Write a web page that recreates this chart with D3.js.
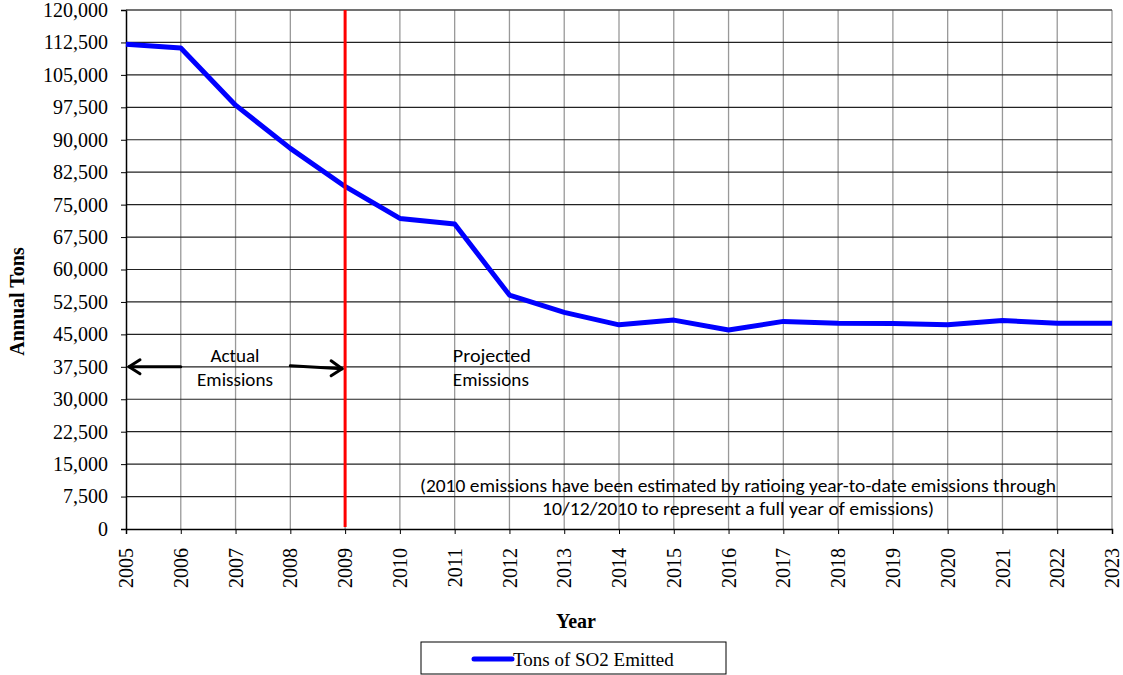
<!DOCTYPE html>
<html>
<head>
<meta charset="utf-8">
<script src="https://cdn.jsdelivr.net/npm/d3@7"></script>
<style>
  body { margin: 0; background: #fff; }
  svg { display: block; }
</style>
</head>
<body>
<div id="chart"></div>
<script>
const years = d3.range(2005, 2024);
const tons = [112100, 111200, 98000, 88000, 79200, 71800, 70500, 54100, 50100, 47200,
              48300, 46000, 48000, 47600, 47500, 47200, 48200, 47600, 47600];
const yTicks = d3.range(0, 120001, 7500);
const seriesName = "Tons of SO2 Emitted";
const splitYear = 2009;
const arrowLevel = 37500;
const noteLines = [
  "(2010 emissions have been estimated by ratioing year-to-date emissions through",
  "10/12/2010 to represent a full year of emissions)"
];

const width = 1123, height = 675;
const margin = {top: 10, right: 11, bottom: 146, left: 126};

const svg = d3.select("#chart").append("svg")
    .attr("width", width)
    .attr("height", height);

const x = d3.scaleLinear()
    .domain([2005, 2023])
    .range([margin.left, width - margin.right]);
const y = d3.scaleLinear()
    .domain([0, 120000])
    .range([height - margin.bottom, margin.top]);

const serif = "'Liberation Serif', 'Times New Roman', serif";
const sans = "Carlito, Lato, 'Open Sans', sans-serif";

// vertical grid
svg.append("g")
  .selectAll("line")
  .data(years.slice(1))
  .join("line")
    .attr("x1", d => x(d)).attr("x2", d => x(d))
    .attr("y1", y(120000)).attr("y2", y(0))
    .attr("stroke", "#999")
    .attr("stroke-width", 1.3);

// horizontal grid
svg.append("g")
  .selectAll("line")
  .data(yTicks.slice(1))
  .join("line")
    .attr("x1", x(2005)).attr("x2", x(2023))
    .attr("y1", d => y(d)).attr("y2", d => y(d))
    .attr("stroke", "#222")
    .attr("stroke-width", 1.2);

// axes
const yAxis = svg.append("g")
    .attr("transform", `translate(${margin.left},0)`)
    .call(d3.axisLeft(y).tickValues(yTicks).tickSize(5).tickPadding(13)
      .tickFormat(d3.format(",")));
yAxis.select(".domain").attr("stroke", "#000").attr("stroke-width", 1.5);
yAxis.selectAll(".tick line").attr("stroke", "#000");
yAxis.selectAll("text")
    .attr("font-family", serif)
    .attr("font-size", 20)
    .attr("fill", "#000");

const xAxis = svg.append("g")
    .attr("transform", `translate(0,${y(0)})`)
    .call(d3.axisBottom(x).tickValues(years).tickSize(5).tickFormat(d3.format("d")));
xAxis.select(".domain").attr("stroke", "#000").attr("stroke-width", 1.5);
xAxis.selectAll(".tick line").attr("stroke", "#000");
xAxis.selectAll("text")
    .attr("font-family", serif)
    .attr("font-size", 20)
    .attr("fill", "#000")
    .attr("transform", "rotate(-90)")
    .attr("text-anchor", "end")
    .attr("dy", "0.33em")
    .attr("x", -19)
    .attr("y", 0);

// top border
svg.append("line")
    .attr("x1", x(2005)).attr("x2", x(2023))
    .attr("y1", y(120000)).attr("y2", y(120000))
    .attr("stroke", "#555");

// series line
svg.append("path")
    .datum(years.map((yr, i) => [yr, tons[i]]))
    .attr("fill", "none")
    .attr("stroke", "#0000ff")
    .attr("stroke-width", 5)
    .attr("stroke-linejoin", "round")
    .attr("d", d3.line().x(d => x(d[0])).y(d => y(d[1])));

// split line
svg.append("line")
    .attr("x1", x(splitYear)).attr("x2", x(splitYear))
    .attr("y1", y(120000)).attr("y2", y(0) - 2)
    .attr("stroke", "#ff0000")
    .attr("stroke-width", 3);

// arrows
const arrowG = svg.append("g")
    .attr("stroke", "#000")
    .attr("stroke-width", 3)
    .attr("fill", "none")
    .attr("stroke-linecap", "round")
    .attr("stroke-linejoin", "round");
const ay = y(arrowLevel);
arrowG.append("line")
    .attr("x1", x(2005) + 3).attr("x2", x(2006))
    .attr("y1", ay).attr("y2", ay);
arrowG.append("polyline")
    .attr("points", `${x(2005) + 14},${ay - 7} ${x(2005) + 3},${ay} ${x(2005) + 14},${ay + 7}`);
arrowG.append("line")
    .attr("x1", x(2008)).attr("x2", x(splitYear) - 3)
    .attr("y1", ay - 1).attr("y2", ay + 2);
arrowG.append("polyline")
    .attr("points", `${x(splitYear) - 14},${ay - 6} ${x(splitYear) - 3},${ay + 2} ${x(splitYear) - 14},${ay + 9}`);

// annotations
const ann = svg.append("g")
    .attr("font-family", sans)
    .attr("font-size", 18)
    .attr("fill", "#000");
ann.append("text")
    .attr("x", 235).attr("y", y(arrowLevel) - 5)
    .attr("text-anchor", "middle")
    .attr("textLength", 49).attr("lengthAdjust", "spacingAndGlyphs")
    .text("Actual");
ann.append("text")
    .attr("x", 235).attr("y", y(arrowLevel) + 19)
    .attr("text-anchor", "middle")
    .attr("textLength", 76).attr("lengthAdjust", "spacingAndGlyphs")
    .text("Emissions");
ann.append("text")
    .attr("x", x(2010) + 53).attr("y", y(arrowLevel) - 5)
    .attr("textLength", 78).attr("lengthAdjust", "spacingAndGlyphs")
    .text("Projected");
ann.append("text")
    .attr("x", x(2010) + 53).attr("y", y(arrowLevel) + 19)
    .attr("textLength", 76).attr("lengthAdjust", "spacingAndGlyphs")
    .text("Emissions");
noteLines.forEach((t, i) => {
  ann.append("text")
      .attr("x", 738).attr("y", 492 + i * 23)
      .attr("text-anchor", "middle")
      .attr("textLength", i === 0 ? 636 : 392)
      .attr("lengthAdjust", "spacingAndGlyphs")
      .text(t);
});

// axis titles
svg.append("text")
    .attr("x", 576).attr("y", 628)
    .attr("text-anchor", "middle")
    .attr("font-family", serif)
    .attr("font-weight", "bold")
    .attr("font-size", 20)
    .text("Year");
svg.append("text")
    .attr("transform", `translate(24,${(y(0) + y(120000)) / 2 + 32}) rotate(-90)`)
    .attr("text-anchor", "middle")
    .attr("font-family", serif)
    .attr("font-weight", "bold")
    .attr("font-size", 20)
    .text("Annual Tons");

// legend
const lg = svg.append("g").attr("transform", "translate(421,642)");
lg.append("rect")
    .attr("width", 305).attr("height", 32)
    .attr("fill", "#fff")
    .attr("stroke", "#000")
    .attr("stroke-width", 1);
lg.append("line")
    .attr("x1", 53).attr("x2", 91)
    .attr("y1", 17).attr("y2", 17)
    .attr("stroke", "#0000ff")
    .attr("stroke-width", 5)
    .attr("stroke-linecap", "round");
lg.append("text")
    .attr("x", 92).attr("y", 24)
    .attr("font-family", serif)
    .attr("font-size", 19)
    .text(seriesName);
</script>
</body>
</html>
